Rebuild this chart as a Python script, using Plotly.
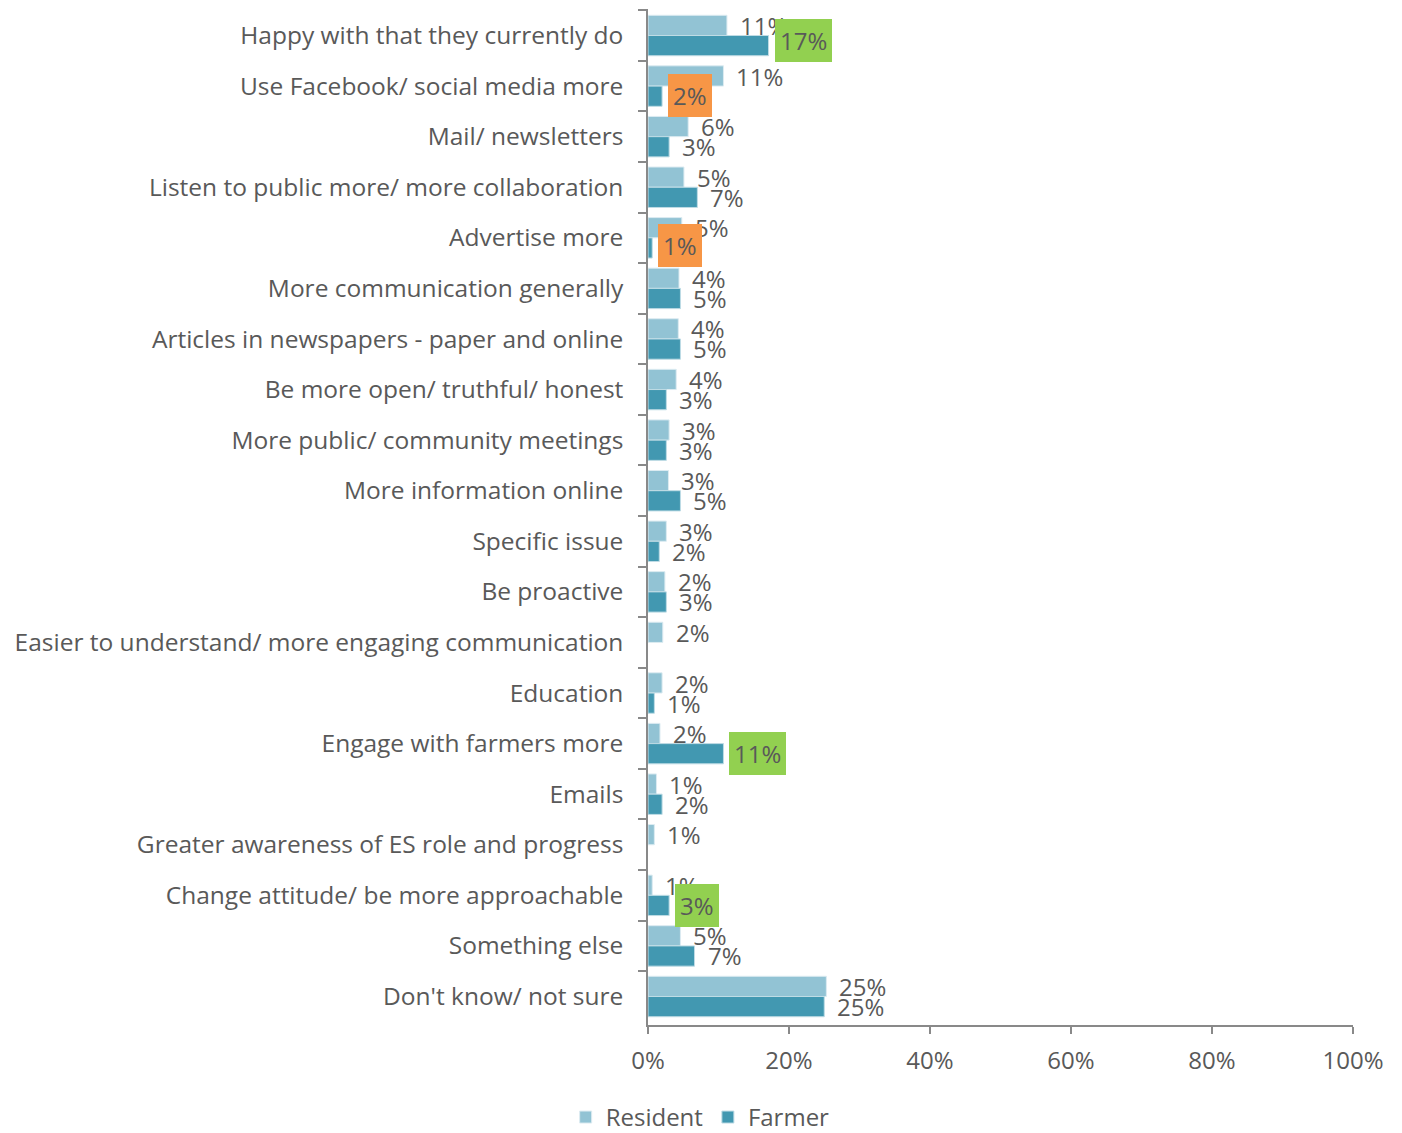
import plotly.graph_objects as go

# Survey responses: how could communication be improved
categories = [
    "Happy with that they currently do",
    "Use Facebook/ social media more",
    "Mail/ newsletters",
    "Listen to public more/ more collaboration",
    "Advertise more",
    "More communication generally",
    "Articles in newspapers - paper and online",
    "Be more open/ truthful/ honest",
    "More public/ community meetings",
    "More information online",
    "Specific issue",
    "Be proactive",
    "Easier to understand/ more engaging communication",
    "Education",
    "Engage with farmers more",
    "Emails",
    "Greater awareness of ES role and progress",
    "Change attitude/ be more approachable",
    "Something else",
    "Don't know/ not sure",
]

resident = [0.112, 0.107, 0.057, 0.051, 0.048, 0.044, 0.043, 0.040, 0.030, 0.029,
            0.026, 0.024, 0.021, 0.020, 0.017, 0.012, 0.009, 0.006, 0.046, 0.253]
farmer = [0.171, 0.020, 0.030, 0.070, 0.006, 0.046, 0.046, 0.026, 0.026, 0.046,
          0.016, 0.026, None, 0.009, 0.107, 0.020, None, 0.030, 0.066, 0.250]

x_ticks = [0, 0.2, 0.4, 0.6, 0.8, 1.0]
x_tick_labels = ["0%", "20%", "40%", "60%", "80%", "100%"]

RES_COLOR = "#92C3D4"
FARM_COLOR = "#4298B1"
TEXT_COLOR = "#595959"
AXIS_COLOR = "#898989"
FONT = "Open Sans, sans-serif"
LABEL_SIZE = 24

# Labels drawn on a coloured background: (series, category index) -> (colour, extra lift in px)
highlights = {
    ("Farmer", 0): ("#92D050", 5),
    ("Farmer", 1): ("#F79646", 1),
    ("Farmer", 4): ("#F79646", 2),
    ("Farmer", 14): ("#92D050", 0),
    ("Farmer", 17): ("#92D050", 0),
}

fig = go.Figure()
fig.add_trace(go.Bar(y=categories, x=resident, orientation="h", name="Resident",
                     marker=dict(color=RES_COLOR, line=dict(color="#DCEBF1", width=1))))
fig.add_trace(go.Bar(y=categories, x=farmer, orientation="h", name="Farmer",
                     marker=dict(color=FARM_COLOR, line=dict(color="#BFDCE5", width=1))))

annotations = []
for name, values, shift in (("Resident", resident, 10), ("Farmer", farmer, -10)):
    for i, (cat, v) in enumerate(zip(categories, values)):
        if v is None:
            continue
        label = f"{round(v * 100):d}%"
        hl = highlights.get((name, i))
        if hl:
            bg, lift = hl
            annotations.append(dict(
                x=v, y=cat, xref="x", yref="y", text=label, showarrow=False,
                xanchor="left", yanchor="middle", xshift=6, yshift=shift + lift,
                bgcolor=bg, borderpad=5, borderwidth=0,
                font=dict(family=FONT, size=LABEL_SIZE, color=TEXT_COLOR)))
        else:
            annotations.append(dict(
                x=v, y=cat, xref="x", yref="y", text=label, showarrow=False,
                xanchor="left", yanchor="middle", xshift=11, yshift=shift,
                font=dict(family=FONT, size=LABEL_SIZE, color=TEXT_COLOR)))

fig.update_layout(
    barmode="group",
    bargap=0.2,
    bargroupgap=0,
    width=1402,
    height=1133,
    margin=dict(l=648, r=49, t=9, b=108, autoexpand=False),
    plot_bgcolor="white",
    paper_bgcolor="white",
    font=dict(family=FONT, size=22, color=TEXT_COLOR),
    annotations=annotations,
    showlegend=True,
    legend=dict(orientation="h", x=0.074, xanchor="center", y=-0.091, yanchor="middle",
                font=dict(family=FONT, size=24, color=TEXT_COLOR),
                itemwidth=30, traceorder="normal"),
)

fig.update_xaxes(
    range=[0, 1], tickvals=x_ticks, ticktext=x_tick_labels,
    showgrid=False, zeroline=False, showline=True, linecolor=AXIS_COLOR, linewidth=1.5,
    ticks="outside", ticklen=7, tickcolor=AXIS_COLOR, tickwidth=1.5,
    ticklabelstandoff=6,
    tickfont=dict(family=FONT, size=24, color=TEXT_COLOR),
)
fig.update_yaxes(
    autorange="reversed", showgrid=False, showline=True, linecolor=AXIS_COLOR, linewidth=1.5,
    ticks="outside", tickson="boundaries", ticklen=8, tickcolor=AXIS_COLOR, tickwidth=1.5,
    ticklabelstandoff=18,
    tickfont=dict(family=FONT, size=24.5, color=TEXT_COLOR),
)

fig.write_html("out.html")
